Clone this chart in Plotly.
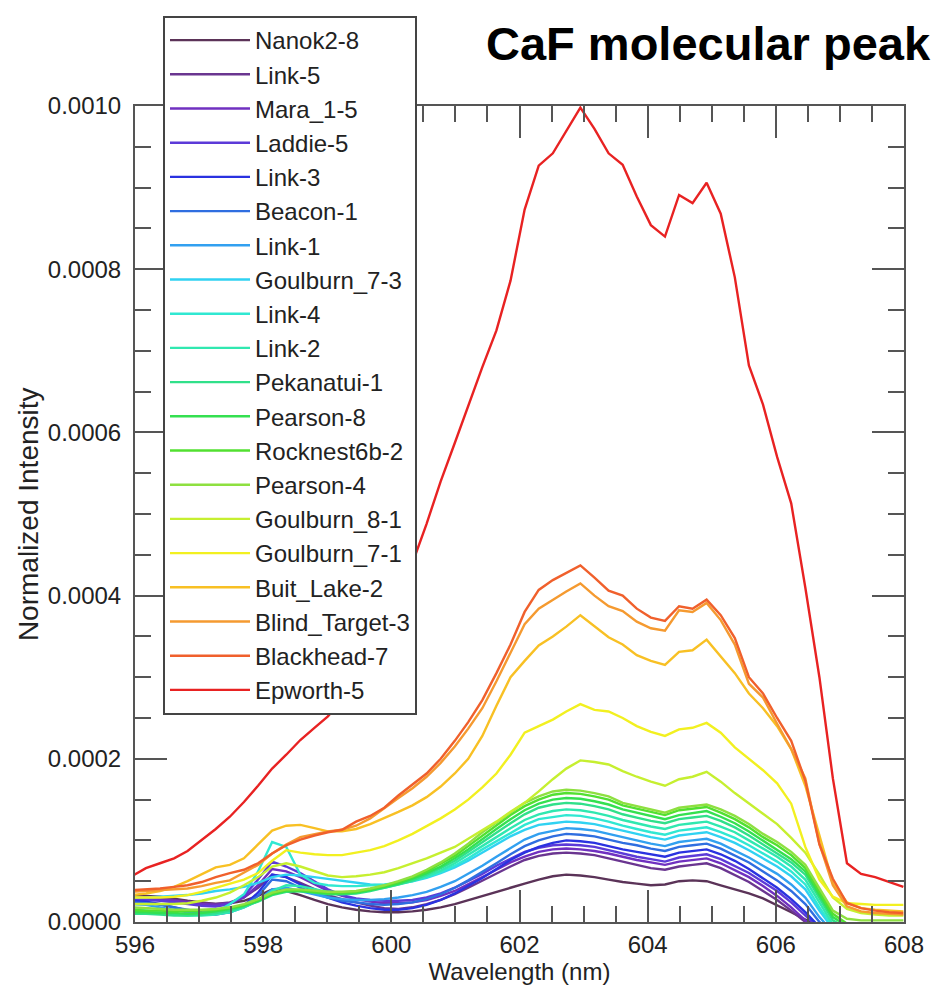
import plotly.graph_objects as go

# Wavelength sampling (nm)
wavelength_nm = [595.95, 596.17, 596.39, 596.61, 596.82, 597.04, 597.26, 597.48, 597.70, 597.92,
                 598.14, 598.36, 598.58, 598.80, 599.01, 599.23, 599.45, 599.67, 599.89, 600.11,
                 600.33, 600.55, 600.77, 600.99, 601.20, 601.42, 601.64, 601.86, 602.08, 602.30,
                 602.52, 602.73, 602.95, 603.17, 603.39, 603.61, 603.83, 604.05, 604.27, 604.49,
                 604.70, 604.92, 605.14, 605.36, 605.58, 605.80, 606.02, 606.24, 606.46, 606.68,
                 606.89, 607.11, 607.33, 607.55, 607.77, 607.99]

# Normalized intensity, in units of 1e-6
nanok2_8 = [32, 32, 31, 28, 26, 24, 22, 23, 26, 32, 40, 38, 33, 27, 22, 18, 15, 13, 12,
            12, 13, 15, 18, 22, 27, 32, 37, 42, 47, 52, 56, 58, 57, 55, 52, 49, 47, 45, 46, 50,
            51, 50, 45, 40, 35, 29, 21, 12, 3, -6, -14, -20, -22, -24, -24, -24]
link_5 = [30, 30, 29, 27, 25, 23, 22, 24, 30, 42, 58, 55, 48, 40, 33, 28, 24, 20, 17,
          16, 18, 22, 27, 34, 42, 51, 60, 68, 76, 81, 84, 85, 84, 82, 78, 74, 70, 66, 64, 68,
          70, 72, 66, 58, 49, 38, 27, 14, 0, -14, -24, -28, -30, -30, -30, -30]
mara_1_5 = [30, 29, 28, 26, 24, 22, 21, 23, 30, 45, 65, 62, 55, 46, 38, 32, 28, 25, 23,
            23, 24, 27, 32, 38, 46, 55, 64, 73, 80, 86, 89, 90, 89, 87, 84, 80, 76, 73, 70, 74,
            76, 78, 72, 64, 55, 44, 32, 18, 2, -12, -22, -26, -28, -28, -28, -28]
laddie_5 = [28, 27, 26, 24, 22, 20, 19, 22, 32, 52, 74, 68, 60, 50, 40, 33, 29, 27, 26,
            26, 27, 30, 35, 42, 50, 59, 69, 78, 86, 91, 94, 95, 94, 92, 88, 84, 80, 77, 74, 79,
            81, 83, 77, 69, 60, 49, 38, 24, 8, -8, -20, -24, -26, -26, -26, -26]
link_3 = [26, 25, 22, 18, 14, 10, 9, 12, 20, 36, 58, 55, 46, 38, 30, 24, 20, 17, 15,
          15, 17, 21, 27, 35, 44, 54, 65, 76, 85, 92, 97, 100, 99, 97, 93, 89, 86, 83, 80, 85,
          87, 89, 83, 75, 65, 54, 42, 28, 12, -6, -18, -22, -24, -24, -24, -24]
beacon_1 = [24, 23, 21, 18, 15, 12, 11, 13, 20, 32, 52, 50, 42, 35, 30, 26, 24, 22, 21,
            22, 24, 28, 34, 42, 51, 61, 72, 83, 93, 100, 105, 108, 107, 105, 101, 97, 94, 90, 87, 92,
            94, 96, 90, 82, 73, 62, 51, 38, 22, 0, -15, -20, -22, -22, -22, -22]
link_1 = [22, 21, 18, 15, 12, 10, 10, 12, 18, 26, 40, 42, 38, 34, 30, 28, 27, 27, 28,
          30, 33, 37, 43, 50, 59, 69, 80, 91, 101, 108, 112, 115, 114, 112, 108, 104, 100, 96, 93, 98,
          100, 102, 96, 88, 79, 69, 59, 46, 30, 6, -12, -18, -20, -20, -20, -20]
goulburn_7_3 = [30, 30, 31, 32, 33, 35, 38, 40, 43, 48, 55, 58, 57, 55, 53, 50, 48, 46, 45,
                47, 50, 54, 60, 67, 75, 85, 95, 105, 113, 119, 121, 123, 122, 120, 116, 112, 108, 104, 101, 106,
                108, 110, 104, 97, 88, 78, 68, 56, 40, 14, -8, -14, -16, -16, -16, -16]
link_4 = [16, 14, 12, 10, 9, 9, 12, 22, 34, 62, 98, 92, 58, 48, 45, 44, 44, 45, 46,
          48, 51, 55, 61, 69, 78, 89, 99, 110, 119, 126, 129, 131, 130, 127, 123, 118, 114, 110, 107, 112,
          114, 116, 110, 103, 94, 84, 74, 62, 46, 18, -6, -12, -14, -14, -14, -14]
link_2 = [14, 13, 11, 9, 8, 8, 9, 12, 18, 26, 38, 45, 44, 40, 37, 36, 37, 39, 42,
          46, 50, 56, 63, 72, 82, 93, 104, 115, 125, 132, 136, 138, 137, 134, 130, 125, 121, 117, 114, 119,
          121, 123, 117, 110, 100, 90, 80, 68, 52, 24, -3, -10, -12, -12, -12, -12]
pekanatui_1 = [10, 10, 9, 8, 8, 9, 11, 14, 19, 25, 33, 37, 38, 36, 34, 34, 35, 38, 42,
               46, 51, 58, 66, 75, 86, 98, 110, 121, 132, 140, 144, 146, 145, 142, 138, 132, 128, 124, 121, 126,
               128, 130, 124, 116, 106, 95, 85, 73, 58, 30, 2, -8, -10, -10, -10, -10]
pearson_8 = [12, 12, 11, 11, 10, 11, 13, 16, 20, 26, 34, 38, 38, 36, 35, 35, 36, 39, 43,
             47, 53, 60, 68, 78, 89, 102, 114, 126, 137, 145, 150, 152, 151, 148, 144, 138, 134, 130, 126, 131,
             133, 136, 129, 121, 111, 100, 89, 77, 62, 34, 6, -5, -8, -8, -8, -8]
rocknest6b_2 = [15, 14, 14, 13, 13, 14, 15, 17, 21, 27, 35, 39, 39, 37, 36, 36, 37, 40, 44,
                49, 55, 62, 71, 81, 93, 106, 118, 131, 142, 150, 156, 158, 157, 154, 150, 143, 139, 135, 131, 137,
                139, 141, 134, 126, 116, 104, 94, 82, 66, 38, 10, -2, -5, -5, -5, -5]
pearson_4 = [18, 17, 16, 15, 15, 15, 16, 18, 22, 28, 36, 40, 40, 38, 37, 37, 38, 41, 45,
             50, 56, 64, 73, 84, 96, 110, 122, 135, 146, 154, 160, 162, 161, 158, 154, 146, 142, 138, 134, 140,
             142, 144, 138, 130, 120, 108, 98, 86, 70, 42, 14, 4, 2, 2, 2, 2]
goulburn_8_1 = [22, 22, 22, 22, 23, 26, 30, 36, 45, 55, 68, 72, 68, 62, 57, 55, 56, 58, 61,
                66, 72, 78, 85, 92, 102, 112, 123, 135, 146, 160, 175, 188, 198, 196, 193, 185, 178, 172, 167, 175,
                178, 184, 172, 158, 145, 132, 120, 103, 85, 58, 30, 16, 11, 9, 8, 8]
goulburn_7_1 = [30, 30, 30, 31, 33, 37, 42, 47, 52, 60, 75, 88, 85, 83, 82, 82, 85, 88, 93,
                100, 108, 117, 127, 138, 150, 165, 182, 205, 232, 240, 248, 258, 267, 260, 258, 250, 240, 233, 228, 236,
                238, 244, 232, 214, 200, 186, 170, 145, 92, 52, 31, 23, 22, 21, 21, 21]
buit_lake_2 = [33, 35, 38, 43, 50, 58, 67, 70, 78, 95, 112, 118, 119, 115, 111, 111, 114, 120, 128,
               135, 143, 153, 166, 182, 200, 228, 265, 300, 320, 339, 350, 362, 376, 362, 349, 340, 327, 320, 315, 331,
               333, 346, 325, 305, 280, 262, 240, 212, 167, 105, 48, 24, 17, 15, 14, 13]
blind_target_3 = [37, 38, 39, 40, 41, 44, 48, 51, 60, 70, 84, 95, 104, 108, 111, 113, 118, 127, 140,
                  152, 164, 178, 195, 215, 237, 262, 295, 330, 365, 384, 395, 405, 415, 400, 387, 381, 368, 360, 357, 382,
                  380, 391, 370, 340, 292, 275, 243, 212, 176, 96, 45, 19, 13, 11, 10, 9]
blackhead_7 = [39, 40, 41, 43, 45, 49, 55, 60, 64, 72, 84, 94, 101, 106, 110, 113, 123, 130, 140,
               155, 168, 182, 200, 222, 245, 272, 305, 340, 380, 407, 419, 428, 437, 422, 406, 400, 384, 373, 369, 387,
               384, 395, 376, 348, 300, 280, 250, 222, 173, 95, 53, 23, 17, 14, 12, 11]
epworth_5 = [56, 66, 72, 78, 87, 100, 114, 129, 147, 167, 188, 205, 223, 238, 252, 272, 298, 328, 362,
             400, 440, 488, 540, 587, 633, 680, 725, 786, 873, 927, 942, 970, 998, 972, 942, 928, 889, 854, 840, 891,
             881, 906, 868, 790, 682, 634, 570, 513, 410, 300, 176, 72, 59, 55, 49, 43]

sample_names = ["Nanok2-8", "Link-5", "Mara_1-5", "Laddie-5", "Link-3", "Beacon-1", "Link-1",
                "Goulburn_7-3", "Link-4", "Link-2", "Pekanatui-1", "Pearson-8", "Rocknest6b-2",
                "Pearson-4", "Goulburn_8-1", "Goulburn_7-1", "Buit_Lake-2", "Blind_Target-3",
                "Blackhead-7", "Epworth-5"]
sample_values = [nanok2_8, link_5, mara_1_5, laddie_5, link_3, beacon_1, link_1, goulburn_7_3,
                 link_4, link_2, pekanatui_1, pearson_8, rocknest6b_2, pearson_4, goulburn_8_1,
                 goulburn_7_1, buit_lake_2, blind_target_3, blackhead_7, epworth_5]
sample_colors = ["#5b3358", "#6a3590", "#7030c0", "#5c3ad8", "#2a32e0", "#2f6ee0", "#32a0f0",
                 "#30d2f2", "#30e8d2", "#30e8b0", "#30e08a", "#34e050", "#52e030", "#8ee040",
                 "#c6ef30", "#f2f020", "#f8c024", "#f59a30", "#f0602c", "#e82222"]
UNIT = 1e-6

fig = go.Figure()
for name, vals, col in zip(sample_names, sample_values, sample_colors):
    fig.add_trace(go.Scatter(
        x=wavelength_nm, y=[v * UNIT for v in vals], mode="lines", name=name,
        line=dict(color=col, width=2.4),
    ))

FONT = "Liberation Sans, Arial, Helvetica, sans-serif"
axis_col = "#555555"
FIG_W, FIG_H = 936, 977

# the page body adds an 8px offset; figure sized so the plot sits where the reference has it
fig.update_layout(
    width=FIG_W, height=FIG_H,
    margin=dict(l=127, r=40, t=98, b=63, autoexpand=False),
    paper_bgcolor="white", plot_bgcolor="white",
    font=dict(family=FONT, color="#222222", size=24),
    showlegend=True,
    legend=dict(
        xref="container", yref="container",
        x=155 / FIG_W, y=1 - 8 / FIG_H, xanchor="left", yanchor="top",
        bgcolor="white", bordercolor="#444444", borderwidth=2,
        font=dict(family=FONT, size=24, color="#222222"),
        itemwidth=80, traceorder="normal", maxheight=900,
    ),
    xaxis=dict(
        range=[596, 608], dtick=2, tick0=596,
        showgrid=False, zeroline=False,
        showline=True, linecolor=axis_col, linewidth=2, mirror="ticks",
        ticks="inside", ticklen=32, tickwidth=2, tickcolor=axis_col,
        minor=dict(dtick=0.5, ticks="inside", ticklen=16, tickwidth=2, tickcolor=axis_col),
        tickfont=dict(family=FONT, size=24, color="#222222"),
        title=dict(text="Wavelength (nm)", font=dict(family=FONT, size=24, color="#222222"), standoff=2),
    ),
    yaxis=dict(
        range=[0, 0.001], dtick=0.0002, tick0=0, tickformat=".4f",
        showgrid=False, zeroline=False,
        showline=True, linecolor=axis_col, linewidth=2, mirror="ticks",
        ticks="inside", ticklen=32, tickwidth=2, tickcolor=axis_col,
        minor=dict(dtick=0.00005, ticks="inside", ticklen=16, tickwidth=2, tickcolor=axis_col),
        tickfont=dict(family=FONT, size=24, color="#222222"),
        ticklabelstandoff=7,
    ),
    annotations=[
        dict(
            text="<b>CaF molecular peak</b>", xref="paper", yref="paper",
            x=1.0377, y=1.077, xanchor="right", yanchor="middle", showarrow=False,
            font=dict(family=FONT, size=47, color="black"),
        ),
        dict(
            text="Normalized Intensity", xref="paper", yref="paper", textangle=-90,
            x=-0.139, y=0.5, xanchor="center", yanchor="middle", showarrow=False,
            font=dict(family=FONT, size=28, color="#222222"),
        ),
    ],
)

fig.write_html("out.html")
